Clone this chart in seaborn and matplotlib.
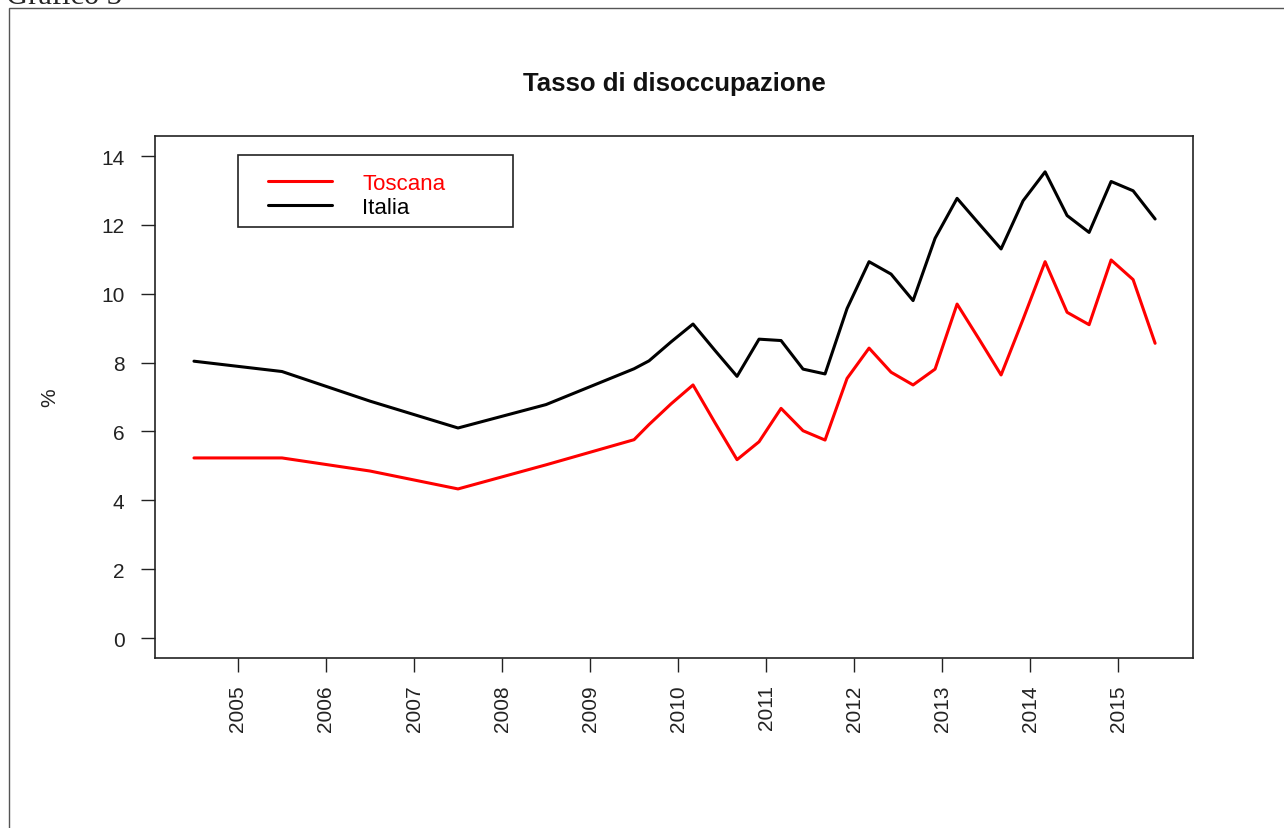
import matplotlib
matplotlib.use("Agg")
import matplotlib.pyplot as plt
import numpy as np
import pandas as pd
import seaborn as sns
from matplotlib.lines import Line2D
from matplotlib.patches import Rectangle

# anni: dati annuali fino al 2009, poi trimestrali
anni = [2004.5, 2005.5, 2006.5, 2007.5, 2008.5, 2009.5,
        2009.67, 2009.92, 2010.17, 2010.42, 2010.67, 2010.92,
        2011.17, 2011.42, 2011.67, 2011.92, 2012.17, 2012.42,
        2012.67, 2012.92, 2013.17, 2013.42, 2013.67, 2013.92,
        2014.17, 2014.42, 2014.67, 2014.92, 2015.17, 2015.42]

toscana = [5.23, 5.23, 4.85, 4.33, 5.03, 5.76,
           6.2, 6.8, 7.35, 6.25, 5.18, 5.70,
           6.67, 6.02, 5.75, 7.54, 8.42, 7.72,
           7.35, 7.81, 9.70, 8.68, 7.64, 9.26,
           10.93, 9.46, 9.10, 10.98, 10.41, 8.56]

italia = [8.04, 7.74, 6.88, 6.10, 6.78, 7.82,
          8.05, 8.6, 9.12, 8.35, 7.6, 8.68,
          8.64, 7.81, 7.67, 9.57, 10.93, 10.57,
          9.80, 11.61, 12.77, 12.03, 11.3, 12.70,
          13.54, 12.27, 11.78, 13.26, 12.99, 12.17]

serie = ["Toscana", "Italia"]
colori = {"Toscana": "red", "Italia": "black"}
anni_tick = list(range(2005, 2016))
y_tick = list(range(0, 15, 2))

df = pd.concat([
    pd.DataFrame({"anno": anni, "tasso": toscana, "serie": "Toscana"}),
    pd.DataFrame({"anno": anni, "tasso": italia, "serie": "Italia"}),
])

sns.set_theme(style="white")
plt.rcParams["font.family"] = ["Liberation Sans", "DejaVu Sans"]

fig = plt.figure(figsize=(12.84, 8.29), dpi=100)
ax = fig.add_axes([0.1207, 0.2051, 0.8084, 0.6296])

sns.lineplot(data=df, x="anno", y="tasso", hue="serie", palette=colori,
             linewidth=2.2, legend=False, ax=ax, estimator=None, sort=False)

ax.set_xlim(2004.057, 2015.85)
ax.set_ylim(-0.58, 14.58)
ax.set_xticks(anni_tick)
ax.set_xticklabels([str(a) for a in anni_tick], rotation=90, fontsize=15, color="#222222")
ax.set_yticks(y_tick)
ax.set_yticklabels([str(v) for v in y_tick], fontsize=15, color="#222222")
ax.tick_params(axis="both", direction="out", length=10, width=1, color="#222222",
               bottom=True, left=True)
ax.tick_params(axis="y", pad=12)
ax.tick_params(axis="x", pad=9)
for s in ax.spines.values():
    s.set_color("#222222")
    s.set_linewidth(1.2)
ax.set_xlabel("")
ax.set_ylabel("%", fontsize=15, color="#222222", labelpad=30)
ax.set_title("Tasso di disoccupazione", fontsize=18.5, fontweight="bold",
             pad=33, color="#111111")

# legenda: cornice disegnata a parte, come in R
ax.add_patch(Rectangle((0.080, 0.8257), 0.2649, 0.1379, transform=ax.transAxes,
                       fill=False, edgecolor="#222222", linewidth=1.2, zorder=5))
handles = [Line2D([0], [0], color=colori[s], lw=2.2) for s in serie]
leg = ax.legend(handles, serie, loc="upper left", bbox_to_anchor=(0.1089, 0.930),
                fontsize=16, frameon=False, handlelength=2.9,
                handletextpad=1.35, borderpad=0, labelspacing=0.15,
                borderaxespad=0)
for t, s in zip(leg.get_texts(), serie):
    t.set_color(colori[s])

# cornice esterna e titolo della pagina
fig.patches.append(Rectangle((9 / 1284, -0.1), 1.2, 1.1 - 9 / 829,
                             transform=fig.transFigure, fill=False,
                             edgecolor="#555555", linewidth=1))
fig.text(6 / 1284, 1 - 4 / 829, "Grafico 3", fontsize=22, va="baseline",
         family=["Liberation Serif", "DejaVu Serif"])

fig.savefig("out.png", dpi=100)
